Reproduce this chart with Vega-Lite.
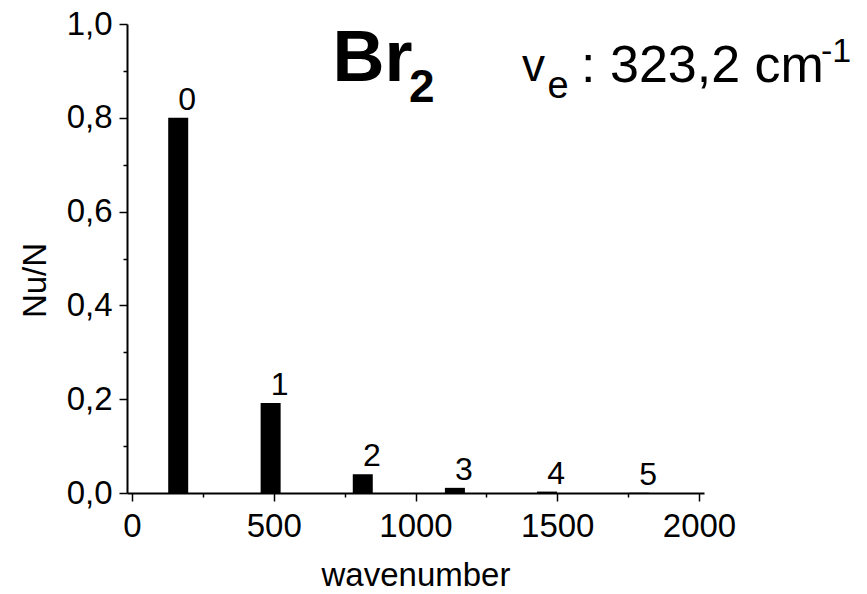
{
  "$schema": "https://vega.github.io/schema/vega-lite/v6.json",
  "width": 577,
  "height": 469,
  "autosize": "none",
  "padding": {"left": 127, "top": 24, "right": 163, "bottom": 101},
  "background": "white",
  "config": {
    "view": {"stroke": null},
    "font": "Liberation Sans",
    "axis": {
      "grid": false,
      "domainColor": "black",
      "domainWidth": 2,
      "tickColor": "black",
      "tickWidth": 1.5,
      "labelColor": "black",
      "labelFont": "Liberation Sans",
      "labelFontSize": 33,
      "titleColor": "black",
      "titleFont": "Liberation Sans",
      "titleFontSize": 33,
      "titleFontWeight": "normal"
    }
  },
  "data": {
    "values": [
      {"wavenumber": 163, "fraction": 0.8, "level": "0"},
      {"wavenumber": 489, "fraction": 0.192, "level": "1"},
      {"wavenumber": 814, "fraction": 0.04, "level": "2"},
      {"wavenumber": 1139, "fraction": 0.011, "level": "3"},
      {"wavenumber": 1464, "fraction": 0.003, "level": "4"},
      {"wavenumber": 1789, "fraction": 0.0005, "level": "5"}
    ]
  },
  "layer": [
    {
      "mark": {"type": "bar", "width": 20, "color": "black"},
      "encoding": {
        "x": {
          "field": "wavenumber",
          "type": "quantitative",
          "scale": {"domain": [0, 2000], "nice": false, "zero": true},
          "axis": {
            "title": "wavenumber",
            "values": [0, 250, 500, 750, 1000, 1250, 1500, 1750, 2000],
            "format": "d",
            "labelExpr": "datum.value % 500 == 0 ? datum.label : ''",
            "tickSize": {"condition": {"test": "datum.value % 500 == 0", "value": 8}, "value": 4},
            "labelPadding": 9,
            "labelFlush": false,
            "labelOverlap": false,
            "titlePadding": 16
          }
        },
        "y": {
          "field": "fraction",
          "type": "quantitative",
          "scale": {"domain": [0, 1], "nice": false},
          "axis": {
            "title": "Nu/N",
            "values": [0, 0.1, 0.2, 0.3, 0.4, 0.5, 0.6, 0.7, 0.8, 0.9, 1.0],
            "labelExpr": "round(datum.value*10) % 2 == 0 ? replace(format(datum.value, '.1f'), '.', ',') : ''",
            "tickSize": {"condition": {"test": "round(datum.value*10) % 2 == 0", "value": 8}, "value": 4},
            "labelPadding": 7,
            "labelFlush": false,
            "labelOverlap": false,
            "titlePadding": 14,
            "titleY": 256
          }
        }
      }
    },
    {
      "mark": {"type": "text", "dx": 9, "dy": -8, "baseline": "alphabetic", "align": "center", "fontSize": 32, "font": "Liberation Sans", "color": "black"},
      "encoding": {
        "x": {"field": "wavenumber", "type": "quantitative"},
        "y": {"field": "fraction", "type": "quantitative"},
        "text": {"field": "level"}
      }
    },
    {
      "data": {"values": [{"t": "Br"}]},
      "mark": {"type": "text", "align": "left", "baseline": "alphabetic", "font": "Liberation Sans", "fontWeight": "bold", "fontSize": 72, "color": "black"},
      "encoding": {"x": {"datum": 707, "type": "quantitative"}, "y": {"datum": 0.878, "type": "quantitative"}, "text": {"field": "t"}}
    },
    {
      "data": {"values": [{"t": "2"}]},
      "mark": {"type": "text", "align": "left", "baseline": "alphabetic", "font": "Liberation Sans", "fontWeight": "bold", "fontSize": 46, "color": "black"},
      "encoding": {"x": {"datum": 977, "type": "quantitative"}, "y": {"datum": 0.834, "type": "quantitative"}, "text": {"field": "t"}}
    },
    {
      "data": {"values": [{"t": "v"}]},
      "mark": {"type": "text", "align": "left", "baseline": "alphabetic", "font": "Liberation Sans", "fontSize": 46, "color": "black"},
      "encoding": {"x": {"datum": 1376, "type": "quantitative"}, "y": {"datum": 0.878, "type": "quantitative"}, "text": {"field": "t"}}
    },
    {
      "data": {"values": [{"t": "e"}]},
      "mark": {"type": "text", "align": "left", "baseline": "alphabetic", "font": "Liberation Sans", "fontSize": 38, "color": "black"},
      "encoding": {"x": {"datum": 1466, "type": "quantitative"}, "y": {"datum": 0.842, "type": "quantitative"}, "text": {"field": "t"}}
    },
    {
      "data": {"values": [{"t": ": 323,2 cm"}]},
      "mark": {"type": "text", "align": "left", "baseline": "alphabetic", "font": "Liberation Sans", "fontSize": 52, "color": "black"},
      "encoding": {"x": {"datum": 1584, "type": "quantitative"}, "y": {"datum": 0.876, "type": "quantitative"}, "text": {"field": "t"}}
    },
    {
      "data": {"values": [{"t": "-1"}]},
      "mark": {"type": "text", "align": "left", "baseline": "alphabetic", "font": "Liberation Sans", "fontSize": 34, "color": "black"},
      "encoding": {"x": {"datum": 2430, "type": "quantitative"}, "y": {"datum": 0.919, "type": "quantitative"}, "text": {"field": "t"}}
    }
  ]
}
